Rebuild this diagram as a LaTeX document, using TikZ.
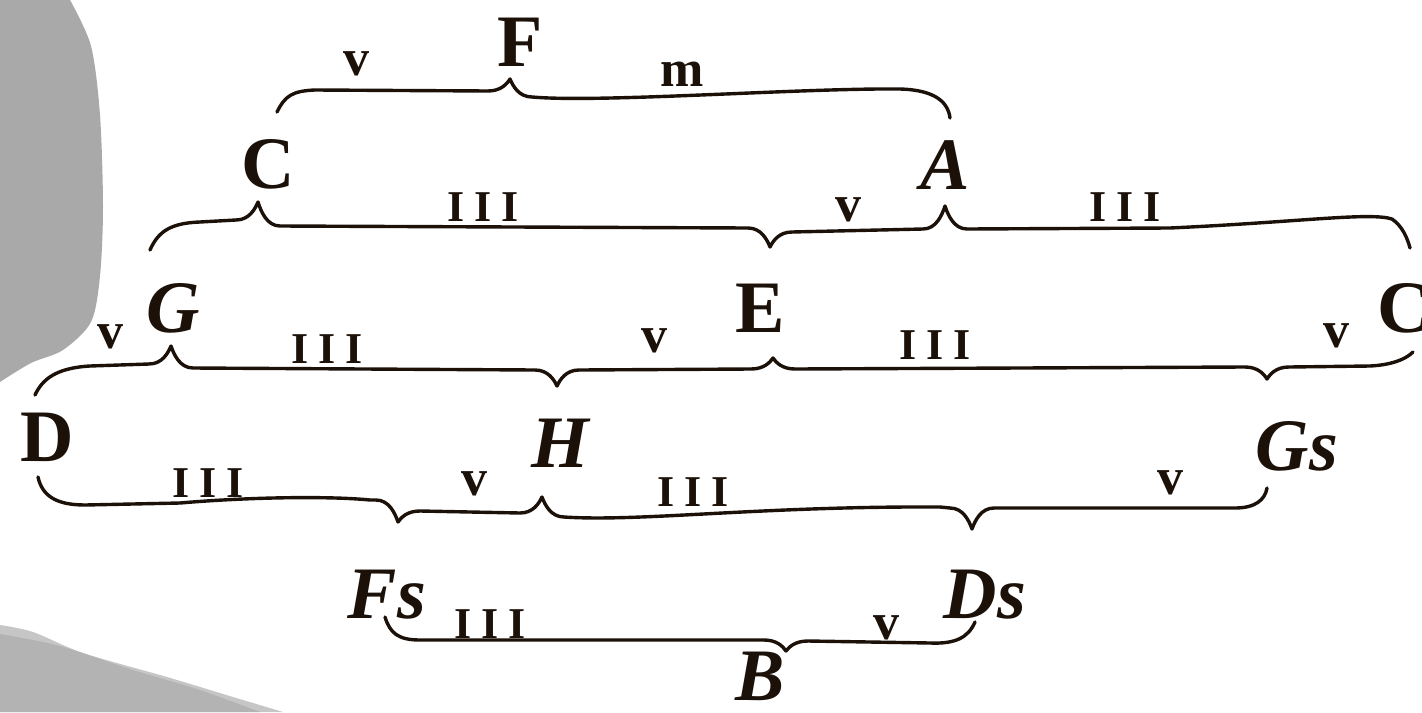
\documentclass[tikz,border=0pt]{standalone}
\usepackage{fontspec}
\setmainfont{Liberation Serif}
\usepackage{xcolor}

\definecolor{ink}{HTML}{1C1109}
\definecolor{blobgray}{HTML}{A9A9A9}
\definecolor{shoregray}{HTML}{C6C6C6}
\definecolor{deepgray}{HTML}{B3B3B3}

% one cusp of a brace: x of tip, y of tip, level left, level right
\newcommand{\brcusp}[4]{-- ({#1-22},#3)
  .. controls ({#1-9},#3) and ({#1-3},{#2+0.4*(#3-#2)}) .. (#1,#2)
  .. controls ({#1+3},{#2+0.4*(#4-#2)}) and ({#1+9},#4) .. ({#1+22},#4)}

\begin{document}
\begin{tikzpicture}[
  x=0.5pt, y=-0.5pt,
  note/.style  = {text=ink, inner sep=0pt,
                  font=\fontsize{37}{37}\selectfont\bfseries},
  inote/.style = {note, font=\fontsize{37}{37}\selectfont\bfseries\itshape},
  fifth/.style = {text=ink, inner sep=0pt,
                  font=\fontsize{26}{26}\selectfont\bfseries},
  third/.style = {text=ink, inner sep=0pt,
                  font=\fontsize{22}{22}\selectfont\bfseries},
  brc/.style   = {draw=ink, line width=1.7pt, line cap=round, line join=round},
]
\useasboundingbox (0,0) rectangle (1422,712);
\clip (0,0) rectangle (1422,712);
\fill[white] (0,0) rectangle (1422,712);

%% --- grey shapes at the left edge ---
\fill[blobgray] (0,0) -- plot[smooth] coordinates
  {(70,0) (91,46) (100,115) (103,207) (100,276) (91,322) (63,350) (31,363) (0,382)}
  -- cycle;
\fill[shoregray] (0,625) -- plot[smooth] coordinates
  {(0,625) (33,632) (83,653) (167,677) (233,697) (283,712)} -- (0,712) -- cycle;
\fill[deepgray] (0,634) -- plot[smooth] coordinates
  {(0,634) (60,646) (133,670) (200,690) (260,712)} -- (0,712) -- cycle;

%% --- notes ---
\node[note]  (f)   at (520,42)  {F};
\node[note]  (c)   at (268,164) {C};
\node[inote] (a)   at (945,165) {A};
\node[inote] (g)   at (173,308) {G};
\node[note]  (e)   at (760,308) {E};
\node[note, anchor=west] (cis) at (1377,308) {C\textit{s}};
\node[note]  (d)   at (47,437)  {D};
\node[inote] (h)   at (560,443) {H};
\node[inote] (gis) at (1297,446) {Gs};
\node[inote] (fis) at (387,595) {Fs};
\node[inote] (dis) at (985,595) {Ds};
\node[inote] (b)   at (760,676) {B};

%% --- interval marks ---
\node[fifth] (v1)  at (356,64)  {v};
\node[fifth] (m1)  at (682,74)  {m};
\node[third] (t2a) at (483,207) {I\hspace{5pt}I\hspace{5pt}I};
\node[fifth] (v2)  at (848,210) {v};
\node[third] (t2b) at (1125,207) {I\hspace{5pt}I\hspace{5pt}I};
\node[fifth] (v3a) at (110,337) {v};
\node[third] (t3a) at (327,349) {I\hspace{5pt}I\hspace{5pt}I};
\node[fifth] (v3b) at (654,341) {v};
\node[third] (t3b) at (935,345) {I\hspace{5pt}I\hspace{5pt}I};
\node[fifth] (v3c) at (1336,336) {v};
\node[third] (t4a) at (208,483) {I\hspace{5pt}I\hspace{5pt}I};
\node[fifth] (v4a) at (474,484) {v};
\node[third] (t4b) at (693,492) {I\hspace{5pt}I\hspace{5pt}I};
\node[fifth] (v4b) at (1170,483) {v};
\node[third] (t5)  at (490,624) {I\hspace{5pt}I\hspace{5pt}I};
\node[fifth] (v5)  at (886,628) {v};

%% --- braces ---
\path[brc] (277,112) .. controls (285,96) and (292,91) .. (315,90)
  \brcusp{510}{79}{91}{97}
  .. controls (600,103) and (800,88) .. (900,89)
  .. controls (935,90) and (948,102) .. (950,118);

\path[brc] (150,250) .. controls (158,232) and (170,223) .. (200,222)
  \brcusp{258}{202}{220}{226}
  \brcusp{770}{247}{228}{232}
  \brcusp{945}{206}{229}{229}
  -- (1170,228) .. controls (1300,222) and (1370,212) .. (1392,219)
  .. controls (1402,226) and (1407,237) .. (1410,248);

\path[brc] (35,395) .. controls (42,380) and (55,368) .. (90,366)
  \brcusp{171}{346}{364}{368}
  \brcusp{557}{386}{370}{370}
  \brcusp{773}{358}{369}{369}
  \brcusp{1267}{379}{367}{367}
  -- (1370,366) .. controls (1390,365) and (1405,360) .. (1413,352);

\path[brc] (38,477) .. controls (42,495) and (55,505) .. (85,505)
  -- (180,503) .. controls (250,497) and (330,496) .. (370,500)
  \brcusp{398}{522}{500}{511}
  \brcusp{542}{497}{513}{517}
  .. controls (640,522) and (760,506) .. (940,507)
  \brcusp{972}{529}{508}{508}
  -- (1235,508) .. controls (1255,508) and (1265,500) .. (1267,488);

\path[brc] (385,617) .. controls (390,633) and (398,640) .. (420,640)
  -- (740,640)
  \brcusp{786}{651}{640}{641}
  -- (930,643) .. controls (955,644) and (968,638) .. (975,622);
\end{tikzpicture}
\end{document}
